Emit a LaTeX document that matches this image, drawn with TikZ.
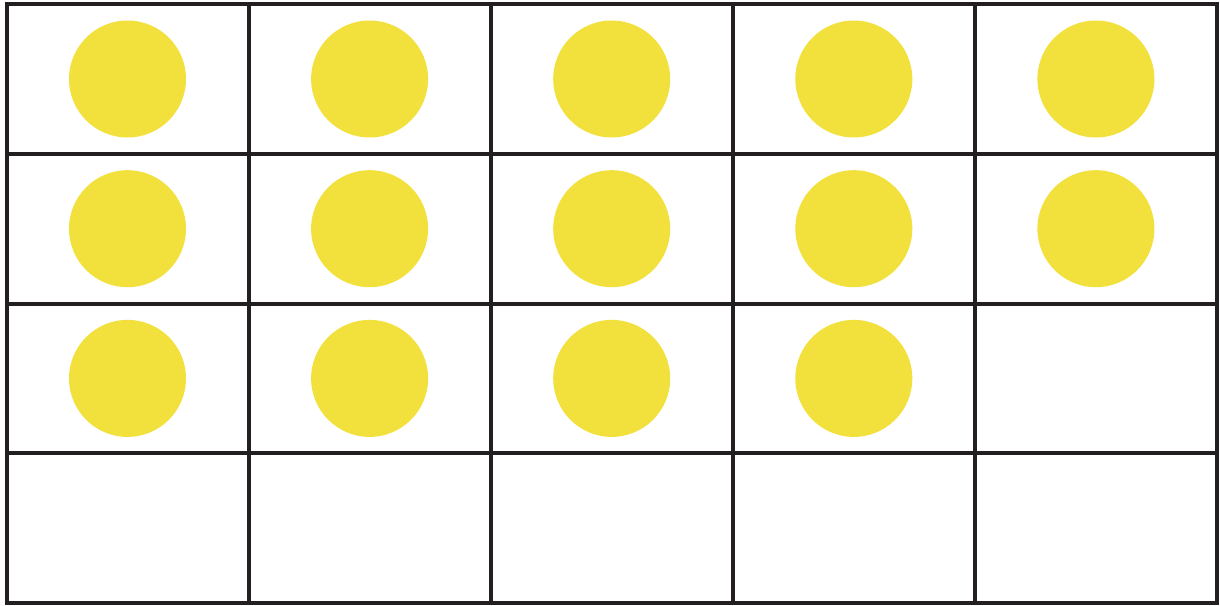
\documentclass[tikz,border=0pt]{standalone}
\usepackage{xcolor}
\usepackage{tikz}
\usetikzlibrary{positioning}
\definecolor{frameline}{HTML}{231F20}
\definecolor{counteryellow}{HTML}{F2E03C}

\tikzset{
    gridline/.style={draw=frameline, line width=4pt},
    counter/.style={circle, fill=counteryellow, minimum size=117pt, inner sep=0pt}
}

\begin{document}
\begin{tikzpicture}[x=1pt, y=-1pt]
    % Page frame
    \useasboundingbox (0, 0) rectangle (1220, 605);

    % Ten-frame style grid: 5 columns, 4 rows
    \foreach \col in {0,...,4} {
        \foreach \row in {0,...,3} {
            \draw[gridline] ({6.5+242.1*\col}, {4.3+149.7*\row}) rectangle ++(242.1, 149.7);
        }
    }

    % Counters: 14 filled cells
    \foreach \row/\cols in {0/4, 1/4, 2/3} {
        \foreach \col in {0,...,\cols} {
            \node[counter] (dot-\row-\col) at ({127.5+242.1*\col}, {79+149.7*\row}) {};
        }
    }
\end{tikzpicture}
\end{document}
